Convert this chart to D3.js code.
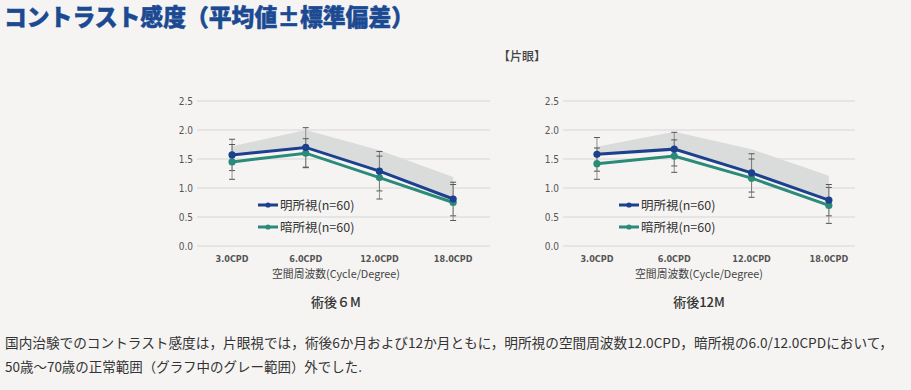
<!DOCTYPE html>
<html><head><meta charset="utf-8">
<script src="https://cdn.jsdelivr.net/npm/d3@7"></script>
<style>
html,body{margin:0;padding:0;background:#f5f4f2;}
svg{display:block;}
</style></head>
<body>
<svg id="c" width="911" height="390"></svg>
<script>
// ---- data ----
const categories = ["3.0CPD", "6.0CPD", "12.0CPD", "18.0CPD"];
const yTicks = [0, 0.5, 1.0, 1.5, 2.0, 2.5];
const seriesNames = ["明所視(n=60)", "暗所視(n=60)"];
const panelTitles = ["術後６M", "術後12M"];

const photopic6M = [1.57, 1.70, 1.29, 0.81];
const photopicSD6M = [0.27, 0.34, 0.34, 0.29];
const mesopic6M = [1.45, 1.60, 1.18, 0.75];
const mesopicSD6M = [0.30, 0.25, 0.37, 0.31];
const normalUpper6M = [1.72, 2.00, 1.65, 1.19];
const normalLower6M = [1.56, 1.69, 1.28, 0.81];

const photopic12M = [1.58, 1.67, 1.26, 0.79];
const photopicSD12M = [0.29, 0.29, 0.33, 0.27];
const mesopic12M = [1.42, 1.55, 1.17, 0.70];
const mesopicSD12M = [0.27, 0.28, 0.33, 0.31];
const normalUpper12M = [1.71, 1.97, 1.67, 1.21];
const normalLower12M = [1.57, 1.66, 1.25, 0.79];

// ---- drawing ----
const svg = d3.select("#c");
const BLUE = "#1c3f8e", GREEN = "#2a8b78";
const JP = "'Noto Sans CJK JP','Noto Sans',sans-serif";
const NUM = "'DejaVu Sans Condensed','DejaVu Sans',sans-serif";

svg.append("rect").attr("width", 911).attr("height", 390).attr("fill", "#f5f4f2");

// title
svg.append("text").attr("x", 4).attr("y", 26)
  .attr("font-family", JP).attr("font-weight", 900).attr("font-size", 23.5)
  .attr("fill", "#1b4a93").attr("stroke", "#1b4a93").attr("stroke-width", 0.5)
  .attr("textLength", 410).attr("lengthAdjust", "spacingAndGlyphs")
  .text("コントラスト感度（平均値±標準偏差）");

svg.append("text").attr("x", 522).attr("y", 61).attr("text-anchor", "middle")
  .attr("font-family", JP).attr("font-size", 12).attr("font-weight", 500).attr("fill", "#444")
  .text("【片眼】");

const y = d3.scaleLinear().domain([0, 2.5]).range([246, 101]);

const panels = [
  {grid: [197, 490], xr: [195.2, 490], title: panelTitles[0], tx: 336, legX: 258,
   p: photopic6M, pSD: photopicSD6M, m: mesopic6M, mSD: mesopicSD6M, up: normalUpper6M, lo: normalLower6M},
  {grid: [563, 855], xr: [558.3, 867.5], title: panelTitles[1], tx: 699, legX: 619,
   p: photopic12M, pSD: photopicSD12M, m: mesopic12M, mSD: mesopicSD12M, up: normalUpper12M, lo: normalLower12M}
];

panels.forEach(P => {
  const g = svg.append("g");
  const x = d3.scaleBand().domain(categories).range(P.xr).padding(0);
  const cx = c => x(c) + x.bandwidth() / 2;

  // gridlines
  g.selectAll(".grid").data(yTicks).join("line")
    .attr("x1", P.grid[0]).attr("x2", P.grid[1])
    .attr("y1", d => y(d)).attr("y2", d => y(d))
    .attr("stroke", "#d6d6d6").attr("stroke-width", 1);

  // y tick labels
  g.selectAll(".yl").data(yTicks).join("text")
    .attr("x", P.grid[0] - 4).attr("y", d => y(d) + 3.5).attr("text-anchor", "end")
    .attr("font-family", NUM).attr("font-size", 10).attr("fill", "#555")
    .text(d => d3.format(".1f")(d));

  // x tick labels
  g.selectAll(".xl").data(categories).join("text")
    .attr("x", d => cx(d)).attr("y", 262).attr("text-anchor", "middle")
    .attr("font-family", NUM).attr("font-weight", "bold").attr("font-size", 9).attr("fill", "#555")
    .text(d => d);

  g.append("text").attr("x", P.tx).attr("y", 278).attr("text-anchor", "middle")
    .attr("font-family", JP).attr("font-size", 11).attr("fill", "#444")
    .attr("textLength", 128).attr("lengthAdjust", "spacingAndGlyphs")
    .text("空間周波数(Cycle/Degree)");

  g.append("text").attr("x", P.tx).attr("y", 307).attr("text-anchor", "middle")
    .attr("font-family", JP).attr("font-size", 13).attr("font-weight", 500).attr("fill", "#333")
    .text(P.title);

  // normal range band
  const bandData = categories.map((c, i) => ({c, u: P.up[i], l: P.lo[i]}));
  g.append("path").datum(bandData)
    .attr("d", d3.area().x(d => cx(d.c)).y0(d => y(d.l)).y1(d => y(d.u)))
    .attr("fill", "#d9dcda");

  // error bars
  const series = [
    {v: P.p, sd: P.pSD, color: BLUE},
    {v: P.m, sd: P.mSD, color: GREEN}
  ];
  series.forEach(s => {
    categories.forEach((c, i) => {
      const x0 = cx(c), top = y(s.v[i] + s.sd[i]), bot = y(s.v[i] - s.sd[i]);
      g.append("line").attr("x1", x0).attr("x2", x0).attr("y1", top).attr("y2", bot)
        .attr("stroke", "#777").attr("stroke-width", 0.8);
      [top, bot].forEach(yy => g.append("line")
        .attr("x1", x0 - 3).attr("x2", x0 + 3).attr("y1", yy).attr("y2", yy)
        .attr("stroke", "#555").attr("stroke-width", 1));
    });
  });

  // lines (mesopic first, photopic on top)
  [series[1], series[0]].forEach(s => {
    const pts = categories.map((c, i) => ({c, v: s.v[i]}));
    g.append("path").datum(pts)
      .attr("d", d3.line().x(d => cx(d.c)).y(d => y(d.v)))
      .attr("fill", "none").attr("stroke", s.color).attr("stroke-width", 3);
    g.selectAll(null).data(pts).join("circle")
      .attr("cx", d => cx(d.c)).attr("cy", d => y(d.v)).attr("r", 3.6)
      .attr("fill", s.color);
  });

  // legend
  seriesNames.forEach((name, i) => {
    const ly = 205 + i * 22, col = i === 0 ? BLUE : GREEN;
    g.append("line").attr("x1", P.legX).attr("x2", P.legX + 20).attr("y1", ly).attr("y2", ly)
      .attr("stroke", col).attr("stroke-width", 3);
    g.append("circle").attr("cx", P.legX + 10).attr("cy", ly).attr("r", 2.6).attr("fill", col);
    g.append("text").attr("x", P.legX + 22).attr("y", ly + 4.5)
      .attr("font-family", JP).attr("font-size", 12.5).attr("fill", "#333")
      .text(name);
  });
});

// footnote
const notes = [
  "国内治験でのコントラスト感度は，片眼視では，術後6か月および12か月ともに，明所視の空間周波数12.0CPD，暗所視の6.0/12.0CPDにおいて，",
  "50歳～70歳の正常範囲（グラフ中のグレー範囲）外でした."
];
const noteW = [888, 357];
notes.forEach((t, i) => {
  svg.append("text").attr("x", 5).attr("y", 348 + i * 24)
    .attr("font-family", JP).attr("font-size", 13.5).attr("fill", "#333")
    .attr("textLength", noteW[i]).attr("lengthAdjust", "spacingAndGlyphs")
    .text(t);
});
</script>
</body></html>
